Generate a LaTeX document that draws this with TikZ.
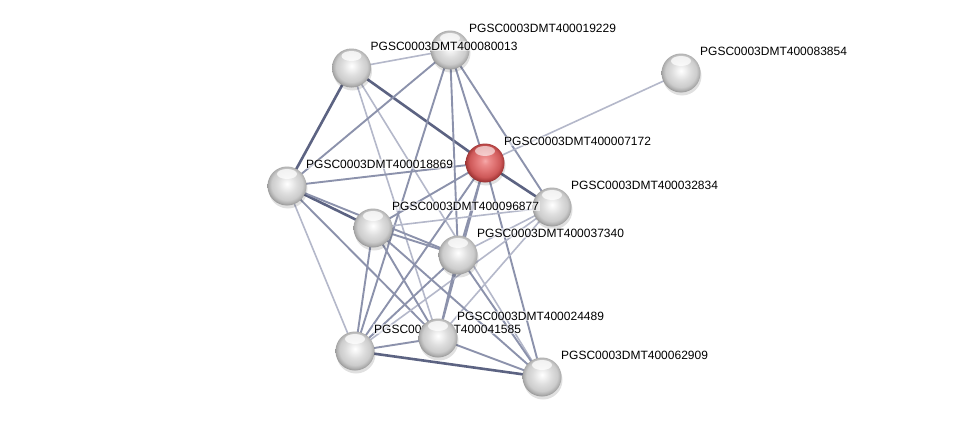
\documentclass[tikz,border=0pt]{standalone}
\usepackage{fontspec}
\newfontfamily\labfont{Liberation Sans}
\usetikzlibrary{calc}
\definecolor{edgeLight}{RGB}{180,184,202}
\definecolor{edgeMid}{RGB}{140,146,172}
\definecolor{edgeDark}{RGB}{92,99,130}
\definecolor{rA}{RGB}{246,170,170}
\definecolor{rB}{RGB}{236,140,140}
\definecolor{rC}{RGB}{222,112,112}
\definecolor{rD}{RGB}{205,88,88}
\definecolor{rE}{RGB}{170,60,60}
\definecolor{rF}{RGB}{140,45,45}
\pgfdeclareradialshading{grayball}{\pgfpoint{0bp}{3bp}}{color(0bp)=(white); color(4bp)=(white!96!black); color(12bp)=(white!87!black); color(20bp)=(white!80!black); color(24bp)=(white!68!black); color(27bp)=(white!55!black); color(50bp)=(white!55!black)}
\pgfdeclareradialshading{redball}{\pgfpoint{0bp}{3bp}}{color(0bp)=(rA); color(5bp)=(rB); color(13bp)=(rC); color(20bp)=(rD); color(24bp)=(rE); color(27bp)=(rF); color(50bp)=(rF)}
\tikzset{
  ew/.style={draw=edgeLight, line width=1.6pt, line cap=round},
  em/.style={draw=edgeMid, line width=1.9pt, line cap=round},
  ed/.style={draw=edgeDark, line width=2.6pt, line cap=round},
  sph/.style={circle, minimum size=39pt, inner sep=0pt, shading=grayball},
  rsph/.style={circle, minimum size=39pt, inner sep=0pt, shading=redball},
  shadowc/.style={fill=black, fill opacity=0.12},
  hilite/.style={fill=white, fill opacity=0.75},
  lbl/.style={anchor=west, font=\labfont\fontsize{12}{14}\selectfont, text=black, fill=white, fill opacity=0.55, text opacity=1, inner sep=1pt}
}
\begin{document}
\begin{tikzpicture}[x=1pt,y=-1pt]
\useasboundingbox (0,0) rectangle (975,423);
\fill[white] (0,0) rectangle (975,423);
% node positions
\coordinate (A) at (351.5,68);
\coordinate (B) at (450,50);
\coordinate (C) at (681,73);
\coordinate (D) at (485,163);
\coordinate (E) at (287,186);
\coordinate (F) at (552,207);
\coordinate (G) at (373,228);
\coordinate (H) at (458,255);
\coordinate (I) at (355,351);
\coordinate (J) at (438,338);
\coordinate (K) at (542,377);
% edges
\path[ew] (A) -- (B);
\path[ed] (A) -- (E);
\path[ed] (A) -- (D);
\path[ew] (A) -- (J);
\path[ew] (A) -- (K);
\path[em] (B) -- (E);
\path[em] (B) -- (I);
\path[em] (B) -- (H);
\path[em] (B) -- (D);
\path[em] (B) -- (F);
\path[ew] (C) -- (D);
\path[em] (D) -- (E);
\path[ed] (D) -- (F);
\path[em] (D) -- (G);
\path[em] (D) -- (H);
\path[em] (D) -- (I);
\path[em] (D) -- (J);
\path[em] (D) -- (K);
\path[ed] (E) -- (G);
\path[em] (E) -- (H);
\path[ew] (E) -- (I);
\path[em] (E) -- (J);
\path[ew] (F) -- (G);
\path[ew] (F) -- (H);
\path[ew] (F) -- (I);
\path[ew] (F) -- (J);
\path[em] (G) -- (H);
\path[em] (G) -- (I);
\path[em] (G) -- (J);
\path[em] (G) -- (K);
\path[em] (H) -- (I);
\path[em] (H) -- (J);
\path[em] (H) -- (K);
\path[em] (I) -- (J);
\path[ed] (I) -- (K);
\path[em] (J) -- (K);
% spheres
\foreach \n in {A,B,C,E,F,G,H,I,K} {
  \fill[shadowc] ($(\n)+(1,3)$) circle (19.5);
  \node[sph] (n\n) at (\n) {};
  \fill[hilite] ($(\n)+(0,-12)$) ellipse (10 and 5);
}
\fill[shadowc] ($(D)+(1,3)$) circle (19.5);
\node[rsph] (nD) at (D) {};
\fill[white, fill opacity=0.6] ($(D)+(0,-12)$) ellipse (10 and 5);
% label of I, partly hidden by J
\node[lbl] (lI) at ($(I)+(18,-22)$) {PGSC0003DMT400041585};
\fill[shadowc] ($(J)+(1,3)$) circle (19.5);
\node[sph] (nJ) at (J) {};
\fill[hilite] ($(J)+(0,-12)$) ellipse (10 and 5);
% labels
\node[lbl] (lA) at ($(A)+(18,-22)$) {PGSC0003DMT400080013};
\node[lbl] (lB) at ($(B)+(18,-22)$) {PGSC0003DMT400019229};
\node[lbl] (lC) at ($(C)+(18,-22)$) {PGSC0003DMT400083854};
\node[lbl] (lD) at ($(D)+(18,-22)$) {PGSC0003DMT400007172};
\node[lbl] (lE) at ($(E)+(18,-22)$) {PGSC0003DMT400018869};
\node[lbl] (lF) at ($(F)+(18,-22)$) {PGSC0003DMT400032834};
\node[lbl] (lG) at ($(G)+(18,-22)$) {PGSC0003DMT400096877};
\node[lbl] (lH) at ($(H)+(18,-22)$) {PGSC0003DMT400037340};
\node[lbl] (lJ) at ($(J)+(18,-22)$) {PGSC0003DMT400024489};
\node[lbl] (lK) at ($(K)+(18,-22)$) {PGSC0003DMT400062909};
\end{tikzpicture}
\end{document}
